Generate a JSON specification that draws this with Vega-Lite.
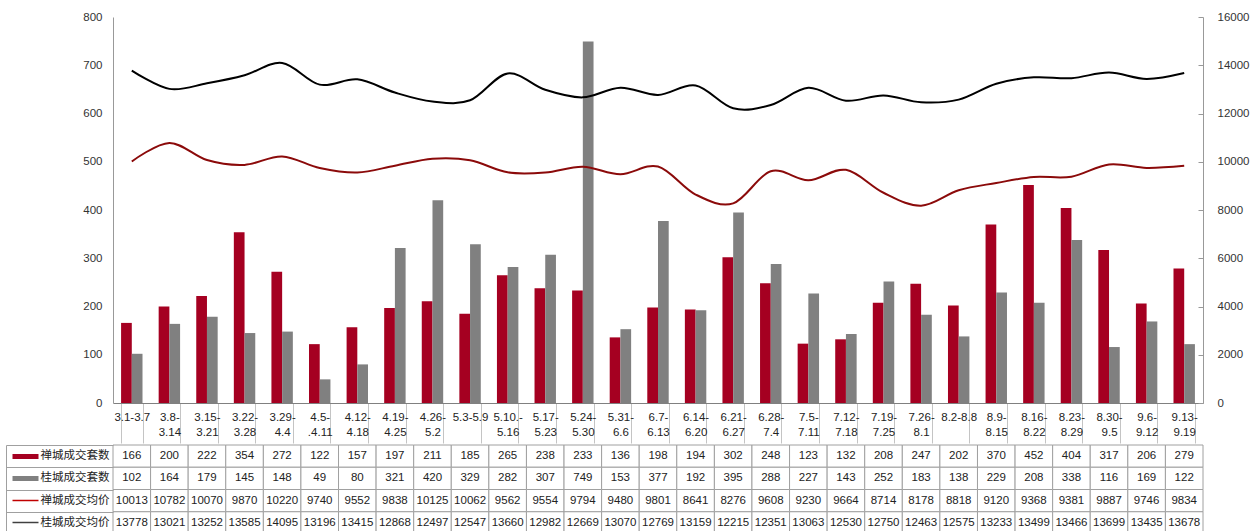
{
  "$schema": "https://vega.github.io/schema/vega-lite/v6.json",
  "padding": {"left": 5, "top": 11, "right": 5, "bottom": 0},
  "spacing": 0,
  "config": {
    "view": {"stroke": null},
    "font": "Liberation Sans, 'Noto Sans CJK SC'"
  },
  "datasets": {
    "weeks": [
      {"cat": "3.1-3.7", "禅城成交套数": 166, "桂城成交套数": 102, "禅城成交均价": 10013, "桂城成交均价": 13778},
      {"cat": "3.8- 3.14", "禅城成交套数": 200, "桂城成交套数": 164, "禅城成交均价": 10782, "桂城成交均价": 13021},
      {"cat": "3.15- 3.21", "禅城成交套数": 222, "桂城成交套数": 179, "禅城成交均价": 10070, "桂城成交均价": 13252},
      {"cat": "3.22- 3.28", "禅城成交套数": 354, "桂城成交套数": 145, "禅城成交均价": 9870, "桂城成交均价": 13585},
      {"cat": "3.29- 4.4", "禅城成交套数": 272, "桂城成交套数": 148, "禅城成交均价": 10220, "桂城成交均价": 14095},
      {"cat": "4.5- .4.11", "禅城成交套数": 122, "桂城成交套数": 49, "禅城成交均价": 9740, "桂城成交均价": 13196},
      {"cat": "4.12- 4.18", "禅城成交套数": 157, "桂城成交套数": 80, "禅城成交均价": 9552, "桂城成交均价": 13415},
      {"cat": "4.19- 4.25", "禅城成交套数": 197, "桂城成交套数": 321, "禅城成交均价": 9838, "桂城成交均价": 12868},
      {"cat": "4.26- 5.2", "禅城成交套数": 211, "桂城成交套数": 420, "禅城成交均价": 10125, "桂城成交均价": 12497},
      {"cat": "5.3-5.9", "禅城成交套数": 185, "桂城成交套数": 329, "禅城成交均价": 10062, "桂城成交均价": 12547},
      {"cat": "5.10.- 5.16", "禅城成交套数": 265, "桂城成交套数": 282, "禅城成交均价": 9562, "桂城成交均价": 13660},
      {"cat": "5.17- 5.23", "禅城成交套数": 238, "桂城成交套数": 307, "禅城成交均价": 9554, "桂城成交均价": 12982},
      {"cat": "5.24- 5.30", "禅城成交套数": 233, "桂城成交套数": 749, "禅城成交均价": 9794, "桂城成交均价": 12669},
      {"cat": "5.31- 6.6", "禅城成交套数": 136, "桂城成交套数": 153, "禅城成交均价": 9480, "桂城成交均价": 13070},
      {"cat": "6.7- 6.13", "禅城成交套数": 198, "桂城成交套数": 377, "禅城成交均价": 9801, "桂城成交均价": 12769},
      {"cat": "6.14- 6.20", "禅城成交套数": 194, "桂城成交套数": 192, "禅城成交均价": 8641, "桂城成交均价": 13159},
      {"cat": "6.21- 6.27", "禅城成交套数": 302, "桂城成交套数": 395, "禅城成交均价": 8276, "桂城成交均价": 12215},
      {"cat": "6.28- 7.4", "禅城成交套数": 248, "桂城成交套数": 288, "禅城成交均价": 9608, "桂城成交均价": 12351},
      {"cat": "7.5- 7.11", "禅城成交套数": 123, "桂城成交套数": 227, "禅城成交均价": 9230, "桂城成交均价": 13063},
      {"cat": "7.12- 7.18", "禅城成交套数": 132, "桂城成交套数": 143, "禅城成交均价": 9664, "桂城成交均价": 12530},
      {"cat": "7.19- 7.25", "禅城成交套数": 208, "桂城成交套数": 252, "禅城成交均价": 8714, "桂城成交均价": 12750},
      {"cat": "7.26- 8.1", "禅城成交套数": 247, "桂城成交套数": 183, "禅城成交均价": 8178, "桂城成交均价": 12463},
      {"cat": "8.2-8.8", "禅城成交套数": 202, "桂城成交套数": 138, "禅城成交均价": 8818, "桂城成交均价": 12575},
      {"cat": "8.9- 8.15", "禅城成交套数": 370, "桂城成交套数": 229, "禅城成交均价": 9120, "桂城成交均价": 13233},
      {"cat": "8.16- 8.22", "禅城成交套数": 452, "桂城成交套数": 208, "禅城成交均价": 9368, "桂城成交均价": 13499},
      {"cat": "8.23- 8.29", "禅城成交套数": 404, "桂城成交套数": 338, "禅城成交均价": 9381, "桂城成交均价": 13466},
      {"cat": "8.30- 9.5", "禅城成交套数": 317, "桂城成交套数": 116, "禅城成交均价": 9887, "桂城成交均价": 13699},
      {"cat": "9.6- 9.12", "禅城成交套数": 206, "桂城成交套数": 169, "禅城成交均价": 9746, "桂城成交均价": 13435},
      {"cat": "9.13- 9.19", "禅城成交套数": 279, "桂城成交套数": 122, "禅城成交均价": 9834, "桂城成交均价": 13678}
    ]
  },
  "vconcat": [
    {
      "width": 1090,
      "height": 386,
      "data": {"name": "weeks"},
      "layer": [
        {
          "transform": [{"fold": ["禅城成交套数", "桂城成交套数"], "as": ["series", "units"]}],
          "mark": {"type": "bar"},
          "encoding": {
            "x": {
              "field": "cat", "type": "nominal",
              "scale": {"domain": ["3.1-3.7","3.8- 3.14","3.15- 3.21","3.22- 3.28","3.29- 4.4","4.5- .4.11","4.12- 4.18","4.19- 4.25","4.26- 5.2","5.3-5.9","5.10.- 5.16","5.17- 5.23","5.24- 5.30","5.31- 6.6","6.7- 6.13","6.14- 6.20","6.21- 6.27","6.28- 7.4","7.5- 7.11","7.12- 7.18","7.19- 7.25","7.26- 8.1","8.2-8.8","8.9- 8.15","8.16- 8.22","8.23- 8.29","8.30- 9.5","9.6- 9.12","9.13- 9.19"], "paddingInner": 0.43, "paddingOuter": 0.215},
              "axis": {
                "title": null, "labelAngle": 0,
                "labelExpr": "split(datum.label, ' ')",
                "labelFontSize": 11.5, "labelColor": "#222", "labelBaseline": "middle",
                "labelPadding": -26, "labelLineHeight": 15.5,
                "tickBand": "extent", "tickSize": 40, "tickColor": "#c4c4c4",
                "domainColor": "#808080", "labelOverlap": false
              }
            },
            "xOffset": {"field": "series", "type": "nominal", "scale": {"domain": ["禅城成交套数", "桂城成交套数"], "paddingInner": 0}},
            "y": {
              "field": "units", "type": "quantitative",
              "scale": {"domain": [0, 800], "nice": false},
              "axis": {"title": null, "values": [0,100,200,300,400,500,600,700,800], "ticks": false, "labelPadding": 11, "domainColor": "#999999", "grid": false, "labelFontSize": 11.5, "labelColor": "#333", "minExtent": 107}
            },
            "color": {"field": "series", "type": "nominal", "scale": {"domain": ["禅城成交套数", "桂城成交套数"], "range": ["#A50021", "#808080"]}, "legend": null}
          }
        },
        {
          "layer": [
            {
              "mark": {"type": "line", "interpolate": "cardinal", "color": "#8B0A0A", "strokeWidth": 2},
              "encoding": {
                "x": {"field": "cat", "type": "nominal"},
                "y": {
                  "field": "禅城成交均价", "type": "quantitative",
                  "scale": {"domain": [0, 16000], "nice": false},
                  "axis": {"orient": "right", "title": null, "values": [0,2000,4000,6000,8000,10000,12000,14000,16000], "format": "d", "tickSize": -5, "labelPadding": 19, "domainColor": "#999999", "tickColor": "#999999", "grid": false, "labelFontSize": 11.5, "labelColor": "#333"}
                }
              }
            },
            {
              "mark": {"type": "line", "interpolate": "cardinal", "color": "#000000", "strokeWidth": 2},
              "encoding": {
                "x": {"field": "cat", "type": "nominal"},
                "y": {
                  "field": "桂城成交均价", "type": "quantitative",
                  "scale": {"domain": [0, 16000], "nice": false},
                  "axis": {"orient": "right", "title": null, "values": [0,2000,4000,6000,8000,10000,12000,14000,16000], "format": "d", "tickSize": -5, "labelPadding": 19, "domainColor": "#999999", "tickColor": "#999999", "grid": false, "labelFontSize": 11.5, "labelColor": "#333"}
                }
              }
            }
          ]
        }
      ],
      "resolve": {"scale": {"y": "independent"}}
    },
    {
      "width": 1090,
      "height": 89,
      "data": {"name": "weeks"},
      "transform": [{"fold": ["禅城成交套数", "桂城成交套数", "禅城成交均价", "桂城成交均价"], "as": ["series", "value"]}],
      "encoding": {
        "x": {
          "field": "cat", "type": "nominal",
          "scale": {"domain": ["3.1-3.7","3.8- 3.14","3.15- 3.21","3.22- 3.28","3.29- 4.4","4.5- .4.11","4.12- 4.18","4.19- 4.25","4.26- 5.2","5.3-5.9","5.10.- 5.16","5.17- 5.23","5.24- 5.30","5.31- 6.6","6.7- 6.13","6.14- 6.20","6.21- 6.27","6.28- 7.4","7.5- 7.11","7.12- 7.18","7.19- 7.25","7.26- 8.1","8.2-8.8","8.9- 8.15","8.16- 8.22","8.23- 8.29","8.30- 9.5","9.6- 9.12","9.13- 9.19"], "paddingInner": 0, "paddingOuter": 0},
          "axis": null
        }
      },
      "layer": [
        {
          "mark": {"type": "rect", "fill": "white", "stroke": "#a0a0a0", "strokeWidth": 1},
          "encoding": {
            "y": {
              "field": "series", "type": "nominal",
              "scale": {"domain": ["禅城成交套数", "桂城成交套数", "禅城成交均价", "桂城成交均价"], "paddingInner": 0, "paddingOuter": 0},
              "axis": {"orient": "left", "offset": 107, "title": null, "labels": false, "domain": true, "domainColor": "#a0a0a0", "ticks": true, "tickBand": "extent", "tickSize": -107, "tickColor": "#a0a0a0", "grid": false}
            }
          }
        },
        {
          "mark": {"type": "text", "fontSize": 11.5, "color": "#222"},
          "encoding": {
            "y": {
              "field": "series", "type": "nominal",
              "scale": {"domain": ["禅城成交套数", "桂城成交套数", "禅城成交均价", "桂城成交均价"], "paddingInner": 0, "paddingOuter": 0},
              "axis": {
                "orient": "left", "offset": 101, "title": null, "domain": false, "grid": false,
                "ticks": true, "tickSize": -26,
                "tickWidth": {"condition": {"test": "indexof(datum.value, '套数') >= 0", "value": 5}, "value": 1.5},
                "tickColor": {"condition": [{"test": "datum.value === '禅城成交套数'", "value": "#A50021"}, {"test": "datum.value === '桂城成交套数'", "value": "#808080"}, {"test": "datum.value === '禅城成交均价'", "value": "#C00000"}], "value": "#404040"},
                "labelAlign": "left", "labelPadding": -2, "labelFontSize": 11.5, "labelColor": "#222", "labelFont": "Noto Sans CJK SC"
              }
            },
            "text": {"field": "value", "type": "quantitative", "format": "d"}
          }
        }
      ],
      "resolve": {"axis": {"y": "independent"}}
    }
  ]
}
